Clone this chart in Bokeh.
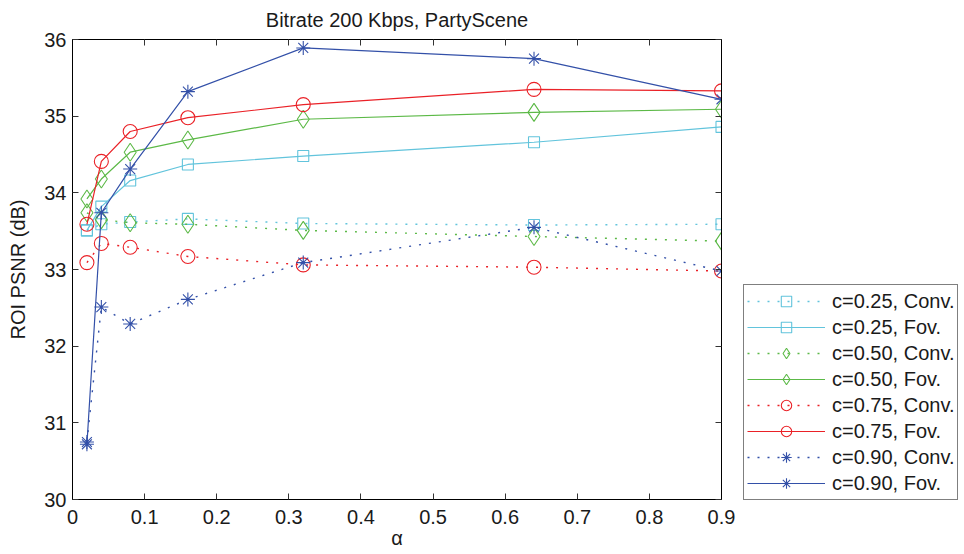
from bokeh.plotting import figure
from bokeh.layouts import row
from bokeh.models import Legend, LegendItem, LinearAxis, FixedTicker, Range1d
from bokeh.embed import file_html
from bokeh.resources import INLINE

# Shared sample positions on the alpha axis
alpha = [0.02, 0.04, 0.08, 0.16, 0.32, 0.64, 0.9]

# ROI PSNR (dB) per weighting c, conventional vs. foveated coding
psnr_c025_conv = [33.51, 33.59, 33.62, 33.66, 33.60, 33.58, 33.59]
psnr_c025_fov = [33.51, 33.82, 34.16, 34.37, 34.48, 34.66, 34.86]
psnr_c050_conv = [33.74, 33.65, 33.61, 33.59, 33.51, 33.43, 33.37]
psnr_c050_fov = [33.92, 34.18, 34.53, 34.69, 34.96, 35.05, 35.09]
psnr_c075_conv = [33.09, 33.34, 33.29, 33.17, 33.06, 33.03, 32.98]
psnr_c075_fov = [33.59, 34.41, 34.80, 34.98, 35.15, 35.35, 35.33]
psnr_c090_conv = [30.75, 32.51, 32.29, 32.61, 33.09, 33.55, 32.98]
psnr_c090_fov = [30.72, 33.74, 34.31, 35.32, 35.89, 35.75, 35.22]

series_labels = [
    "c=0.25, Conv.", "c=0.25, Fov.",
    "c=0.50, Conv.", "c=0.50, Fov.",
    "c=0.75, Conv.", "c=0.75, Fov.",
    "c=0.90, Conv.", "c=0.90, Fov.",
]
series_values = [
    psnr_c025_conv, psnr_c025_fov,
    psnr_c050_conv, psnr_c050_fov,
    psnr_c075_conv, psnr_c075_fov,
    psnr_c090_conv, psnr_c090_fov,
]

x_ticks = [0, 0.1, 0.2, 0.3, 0.4, 0.5, 0.6, 0.7, 0.8, 0.9]
y_ticks = [30, 31, 32, 33, 34, 35, 36]

FONT = "Liberation Sans"

# colour / marker / size per c value
styles = [
    ("#62c4dc", "square", 11),
    ("#5cb947", "diamond", 18),
    ("#ea2127", "circle", 14),
    ("#3350a8", "asterisk", 14),
]


def line_style(i):
    color, marker, size = styles[i // 2]
    fov = i % 2 == 1
    return dict(line_color=color,
                line_width=1.2 if fov else 1.4,
                line_dash="solid" if fov else "2 8")


def marker_style(i):
    color, marker, size = styles[i // 2]
    return dict(marker=marker, size=size, line_color=color,
                fill_color=None, line_width=1.1)


# ---- main axes -------------------------------------------------------------
p = figure(
    frame_width=649, frame_height=460,
    x_range=Range1d(0, 0.9), y_range=Range1d(30, 36),
    output_backend="svg", toolbar_location=None,
    min_border_left=72, min_border_right=22,
    min_border_top=39, min_border_bottom=55,
    background_fill_color="white", border_fill_color="white",
)
p.grid.visible = False
p.outline_line_color = "black"

p.title.text = "Bitrate 200 Kbps, PartyScene"
p.title.text_font = FONT
p.title.text_font_size = "20px"
p.title.text_font_style = "normal"
p.title.align = "center"
p.title.vertical_align = "top"
p.title.text_color = "#1a1a1a"
p.title.standoff = 14


def style_axis(ax, show_labels):
    ax.axis_line_color = "black"
    ax.major_tick_in = 6
    ax.major_tick_out = 0
    ax.minor_tick_line_color = None
    ax.major_tick_line_color = "#333333"
    if show_labels:
        ax.major_label_text_font = FONT
        ax.major_label_text_font_size = "20px"
        ax.major_label_text_color = "#1a1a1a"
        ax.axis_label_text_font = FONT
        ax.axis_label_text_font_size = "20px"
        ax.axis_label_text_font_style = "normal"
        ax.axis_label_text_color = "#1a1a1a"
    else:
        # tick marks only on the box's top and right sides
        ax.major_label_overrides = {t: "" for t in ax.ticker.ticks}
        ax.major_label_standoff = 0


xax = p.xaxis[0]
xax.ticker = FixedTicker(ticks=x_ticks)
xax.axis_label = "α"
style_axis(xax, True)
xax.major_label_standoff = 10
xax.axis_label_standoff = 0

yax = p.yaxis[0]
yax.ticker = FixedTicker(ticks=y_ticks)
yax.axis_label = "ROI PSNR (dB)"
style_axis(yax, True)
yax.major_label_standoff = 6
yax.axis_label_standoff = 12

top_ax = LinearAxis(ticker=FixedTicker(ticks=x_ticks))
style_axis(top_ax, False)
p.add_layout(top_ax, "above")
right_ax = LinearAxis(ticker=FixedTicker(ticks=y_ticks))
style_axis(right_ax, False)
p.add_layout(right_ax, "right")

for i, vals in enumerate(series_values):
    p.line(alpha, vals, **line_style(i))
    p.scatter(alpha, vals, **marker_style(i))

# ---- legend panel to the right of the axes box ---------------------------
# Same series again; the ranges keep the data itself out of view so only
# the legend entries show.
pl = figure(
    width=221, height=555,
    x_range=Range1d(5, 6), y_range=Range1d(0, 1),
    x_axis_type=None, y_axis_type=None,
    output_backend="svg", toolbar_location=None,
    min_border=0, outline_line_color=None,
    background_fill_color="white", border_fill_color="white",
)
pl.grid.visible = False

items = []
for i, (label, vals) in enumerate(zip(series_labels, series_values)):
    ln = pl.line(alpha, vals, **line_style(i))
    mk = pl.scatter(alpha, vals, **marker_style(i))
    items.append(LegendItem(label=label, renderers=[ln, mk]))

legend = Legend(
    items=items,
    location="bottom_left",
    border_line_color="black",
    border_line_width=1,
    background_fill_color="white",
    background_fill_alpha=1,
    padding=3,
    margin=0,
    spacing=0,
    glyph_width=78,
    glyph_height=26,
    label_height=20,
    label_standoff=7,
    label_text_font=FONT,
    label_text_font_size="20px",
    label_text_color="#1a1a1a",
)
pl.add_layout(legend, "center")

open("out.html", "w").write(file_html(row(p, pl, spacing=0), INLINE))
